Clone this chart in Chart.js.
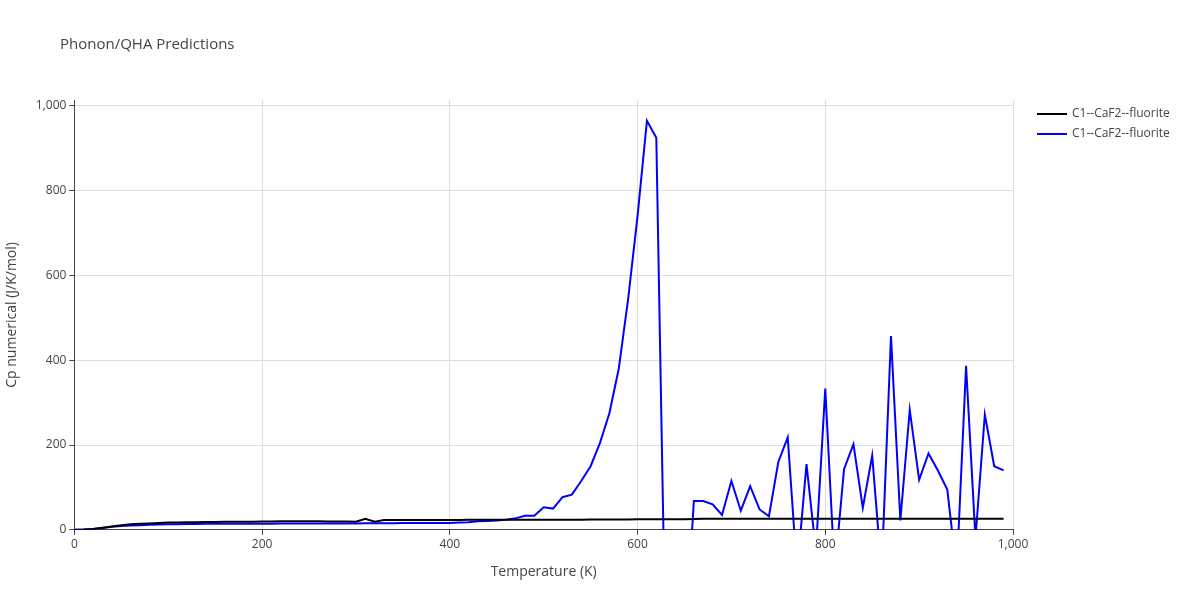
<!DOCTYPE html>
<html><head><meta charset="utf-8">
<script src="https://cdn.jsdelivr.net/npm/chart.js@4"></script>
<style>body{margin:0;background:#fff}#w{width:1200px;height:600px}</style>
</head><body><div id="w"><canvas id="c"></canvas></div>
<script>
const temps = Array.from({length:100},(_,i)=>i*10);
const cpBlack = [0,0.5,2,5,8,11,13,14,15,16,17,17.5,18,18,18.5,18.5,19,19,19,19,19.5,19.5,20,20,20,20,20,19.5,19.5,19.5,19,26,19,23,23,23,23,23,23,23,23,23,23.5,23.5,23.5,23.5,24,24,24,24,24,24,24,24,24,24.5,24.5,24.5,24.5,24.5,25,25,25,25,25,25,25.5,26,26,26,26,26,26,26,26,26,26,26,26,26,26,26,26,26,26,26,26,26,26,26,26,26,26,26,26,26,26,26,26,26];
const cpBlue = [0,0.5,2,4,7,9,10,11,12,12.5,13,13,13.5,13.5,14,14,14,14,14.5,14.5,14.5,14.5,15,15,15,15,15,15,15,15,15,15.5,15.5,15.5,15.5,16,16,16,16,16,16,17,18,20,21,22,24,27,33,33,53,50,77,83,115,150,205,275,380,545,740,965,925,-300,-300,-300,68,68,60,35,115,45,103,48,32,160,218,-100,155,-50,333,-100,143,202,52,175,-100,457,22,283,118,180,140,95,-100,387,-20,272,150,140];
const yTicks = [0,200,400,600,800,1000];
const xTicks = [0,200,400,600,800,1000];
const pts = a => temps.map((t,i)=>({x:t,y:a[i]}));
const F = 'Open Sans';
const deco = {id:'deco',afterDraw(ch){
  const c=ch.ctx; c.save();
  c.fillStyle='#444'; c.font='15px "'+F+'"'; c.textBaseline='middle';
  c.fillText('Phonon/QHA Predictions',60,45);
  c.font='12px "'+F+'"';
  ch.data.datasets.forEach((d,i)=>{
    const y=114+i*20;
    c.strokeStyle=d.borderColor; c.lineWidth=2;
    c.beginPath(); c.moveTo(1037,y); c.lineTo(1067,y); c.stroke();
    c.fillStyle='#444'; c.fillText(d.label,1072,y);
  });
  c.restore();
}};
new Chart(document.getElementById('c'),{
 type:'line',
 data:{datasets:[
  {label:'C1--CaF2--fluorite',data:pts(cpBlack),borderColor:'#000',borderWidth:2,pointRadius:0,tension:0},
  {label:'C1--CaF2--fluorite',data:pts(cpBlue),borderColor:'#0000ff',borderWidth:2,pointRadius:0,tension:0}
 ]},
 plugins:[deco],
 options:{responsive:true,maintainAspectRatio:false,animation:false,
  layout:{padding:{top:100,left:0,right:187,bottom:0}},
  plugins:{legend:{display:false},title:{display:false},tooltip:{enabled:false}},
  scales:{
   x:{type:'linear',min:0,max:1000,afterBuildTicks:s=>{s.ticks=xTicks.map(v=>({value:v}));},
      ticks:{color:'#444',font:{family:F,size:12}},
      grid:{color:'#ddd',tickColor:'#444',tickLength:5},border:{color:'#444'},
      title:{display:true,text:'Temperature (K)',color:'#444',font:{family:F,size:14},padding:{top:8,bottom:20}}},
   y:{min:0,max:1014,afterBuildTicks:s=>{s.ticks=yTicks.map(v=>({value:v}));},
      ticks:{color:'#444',font:{family:F,size:12}},
      grid:{color:'#ddd',tickColor:'#444',tickLength:5},border:{color:'#444'},
      title:{display:true,text:'Cp numerical (J/K/mol)',color:'#444',font:{family:F,size:14},padding:{bottom:12}}}
  }
 }
});
</script></body></html>
